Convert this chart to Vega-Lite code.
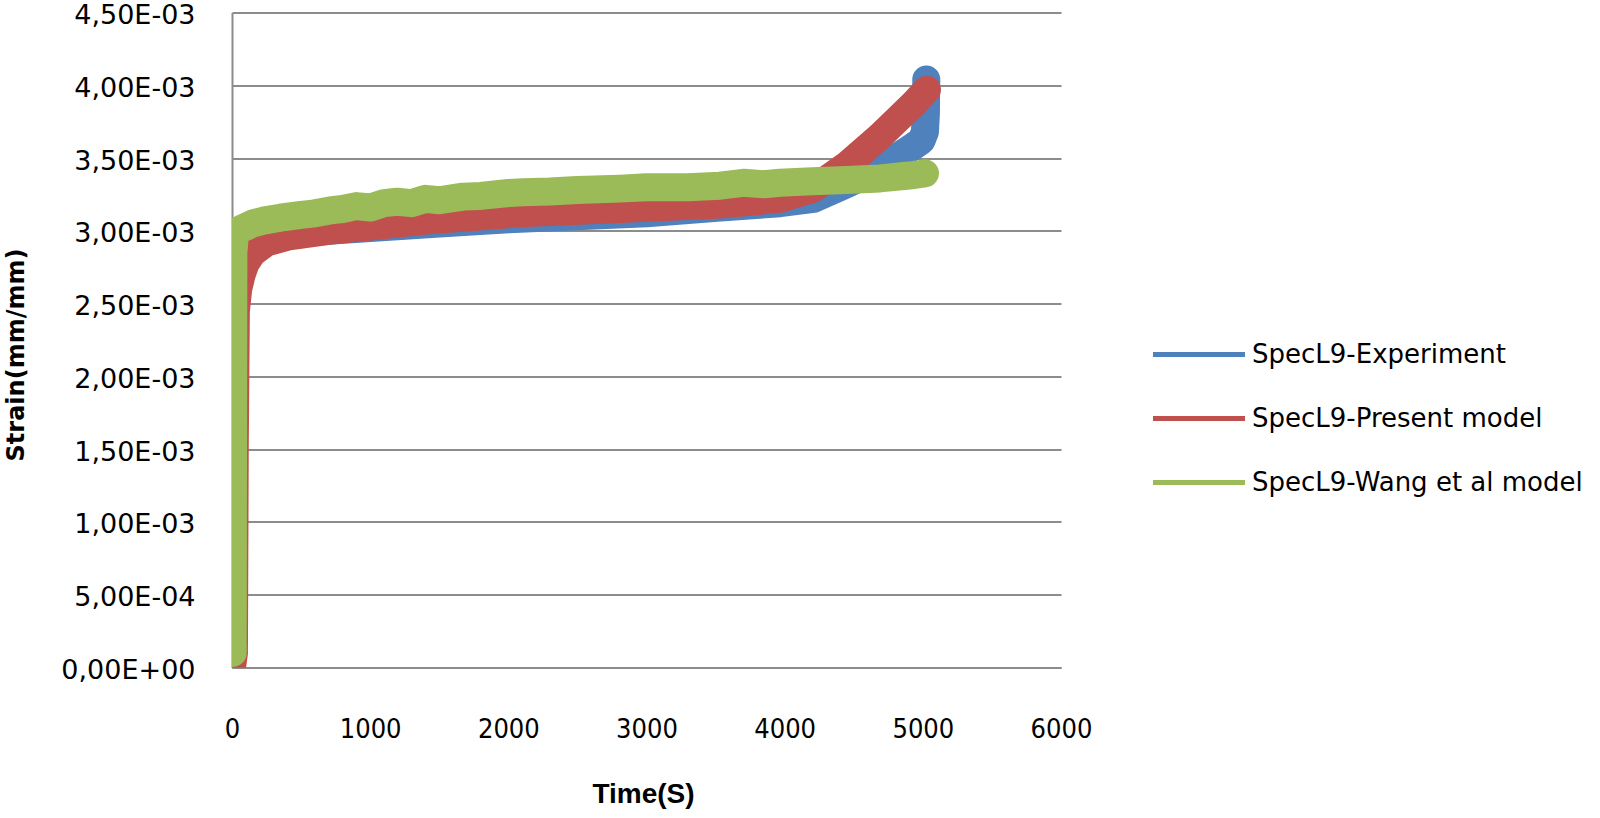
{
  "$schema": "https://vega.github.io/schema/vega-lite/v6.json",
  "autosize": {"type": "none"},
  "width": 829,
  "height": 655,
  "padding": {"left": 232, "top": 12.5, "right": 539, "bottom": 150.5},
  "background": "white",
  "config": {"view": {"stroke": null}},
  "data": {"values": [
    {"series": "SpecL9-Experiment", "t": 0, "strain": 0},
    {"series": "SpecL9-Experiment", "t": 10, "strain": 0.0012},
    {"series": "SpecL9-Experiment", "t": 22, "strain": 0.0025},
    {"series": "SpecL9-Experiment", "t": 45, "strain": 0.00278},
    {"series": "SpecL9-Experiment", "t": 70, "strain": 0.00287},
    {"series": "SpecL9-Experiment", "t": 100, "strain": 0.00291},
    {"series": "SpecL9-Experiment", "t": 200, "strain": 0.00295},
    {"series": "SpecL9-Experiment", "t": 400, "strain": 0.00298},
    {"series": "SpecL9-Experiment", "t": 700, "strain": 0.003},
    {"series": "SpecL9-Experiment", "t": 1000, "strain": 0.00302},
    {"series": "SpecL9-Experiment", "t": 1500, "strain": 0.00305},
    {"series": "SpecL9-Experiment", "t": 2000, "strain": 0.00308},
    {"series": "SpecL9-Experiment", "t": 2500, "strain": 0.0031},
    {"series": "SpecL9-Experiment", "t": 3000, "strain": 0.00312},
    {"series": "SpecL9-Experiment", "t": 3532, "strain": 0.00316},
    {"series": "SpecL9-Experiment", "t": 3966, "strain": 0.00319},
    {"series": "SpecL9-Experiment", "t": 4208, "strain": 0.00322},
    {"series": "SpecL9-Experiment", "t": 4449, "strain": 0.00332},
    {"series": "SpecL9-Experiment", "t": 4690, "strain": 0.00343},
    {"series": "SpecL9-Experiment", "t": 4931, "strain": 0.00358},
    {"series": "SpecL9-Experiment", "t": 4990, "strain": 0.00362},
    {"series": "SpecL9-Experiment", "t": 5015, "strain": 0.00368},
    {"series": "SpecL9-Experiment", "t": 5022, "strain": 0.0038},
    {"series": "SpecL9-Experiment", "t": 5025, "strain": 0.00404},
    {"series": "SpecL9-Present model", "t": 0, "strain": 0},
    {"series": "SpecL9-Present model", "t": 14, "strain": 0.0001},
    {"series": "SpecL9-Present model", "t": 20, "strain": 0.0015},
    {"series": "SpecL9-Present model", "t": 28, "strain": 0.00245},
    {"series": "SpecL9-Present model", "t": 45, "strain": 0.0026},
    {"series": "SpecL9-Present model", "t": 70, "strain": 0.0027},
    {"series": "SpecL9-Present model", "t": 100, "strain": 0.00278},
    {"series": "SpecL9-Present model", "t": 150, "strain": 0.00285},
    {"series": "SpecL9-Present model", "t": 250, "strain": 0.00292},
    {"series": "SpecL9-Present model", "t": 400, "strain": 0.00296},
    {"series": "SpecL9-Present model", "t": 700, "strain": 0.003},
    {"series": "SpecL9-Present model", "t": 1000, "strain": 0.00303},
    {"series": "SpecL9-Present model", "t": 1400, "strain": 0.00307},
    {"series": "SpecL9-Present model", "t": 2085, "strain": 0.00312},
    {"series": "SpecL9-Present model", "t": 2808, "strain": 0.00315},
    {"series": "SpecL9-Present model", "t": 3532, "strain": 0.00318},
    {"series": "SpecL9-Present model", "t": 3966, "strain": 0.00322},
    {"series": "SpecL9-Present model", "t": 4208, "strain": 0.00329},
    {"series": "SpecL9-Present model", "t": 4449, "strain": 0.00345},
    {"series": "SpecL9-Present model", "t": 4690, "strain": 0.00365},
    {"series": "SpecL9-Present model", "t": 4931, "strain": 0.00387},
    {"series": "SpecL9-Present model", "t": 5030, "strain": 0.00397},
    {"series": "SpecL9-Wang et al model", "t": 5, "strain": 0.0001},
    {"series": "SpecL9-Wang et al model", "t": 10, "strain": 0.00285},
    {"series": "SpecL9-Wang et al model", "t": 20, "strain": 0.00296},
    {"series": "SpecL9-Wang et al model", "t": 40, "strain": 0.003},
    {"series": "SpecL9-Wang et al model", "t": 80, "strain": 0.00302},
    {"series": "SpecL9-Wang et al model", "t": 150, "strain": 0.00305},
    {"series": "SpecL9-Wang et al model", "t": 226, "strain": 0.00307},
    {"series": "SpecL9-Wang et al model", "t": 350, "strain": 0.00309},
    {"series": "SpecL9-Wang et al model", "t": 500, "strain": 0.00311},
    {"series": "SpecL9-Wang et al model", "t": 600, "strain": 0.00312},
    {"series": "SpecL9-Wang et al model", "t": 709, "strain": 0.00314},
    {"series": "SpecL9-Wang et al model", "t": 800, "strain": 0.00315},
    {"series": "SpecL9-Wang et al model", "t": 900, "strain": 0.00317},
    {"series": "SpecL9-Wang et al model", "t": 1000, "strain": 0.00316},
    {"series": "SpecL9-Wang et al model", "t": 1100, "strain": 0.00319},
    {"series": "SpecL9-Wang et al model", "t": 1194, "strain": 0.0032},
    {"series": "SpecL9-Wang et al model", "t": 1300, "strain": 0.00319},
    {"series": "SpecL9-Wang et al model", "t": 1400, "strain": 0.00322},
    {"series": "SpecL9-Wang et al model", "t": 1500, "strain": 0.00321},
    {"series": "SpecL9-Wang et al model", "t": 1672, "strain": 0.003235},
    {"series": "SpecL9-Wang et al model", "t": 1800, "strain": 0.00324},
    {"series": "SpecL9-Wang et al model", "t": 2000, "strain": 0.00326},
    {"series": "SpecL9-Wang et al model", "t": 2106, "strain": 0.003265},
    {"series": "SpecL9-Wang et al model", "t": 2300, "strain": 0.00327},
    {"series": "SpecL9-Wang et al model", "t": 2500, "strain": 0.00328},
    {"series": "SpecL9-Wang et al model", "t": 2808, "strain": 0.00329},
    {"series": "SpecL9-Wang et al model", "t": 3000, "strain": 0.0033},
    {"series": "SpecL9-Wang et al model", "t": 3300, "strain": 0.0033},
    {"series": "SpecL9-Wang et al model", "t": 3532, "strain": 0.00331},
    {"series": "SpecL9-Wang et al model", "t": 3700, "strain": 0.00333},
    {"series": "SpecL9-Wang et al model", "t": 3850, "strain": 0.00332},
    {"series": "SpecL9-Wang et al model", "t": 3966, "strain": 0.00333},
    {"series": "SpecL9-Wang et al model", "t": 4200, "strain": 0.00334},
    {"series": "SpecL9-Wang et al model", "t": 4449, "strain": 0.00335},
    {"series": "SpecL9-Wang et al model", "t": 4690, "strain": 0.00336},
    {"series": "SpecL9-Wang et al model", "t": 4900, "strain": 0.00338},
    {"series": "SpecL9-Wang et al model", "t": 5016, "strain": 0.003395}
  ]},
  "mark": {"type": "line", "strokeWidth": 28, "strokeCap": "round", "strokeJoin": "round", "clip": true},
  "encoding": {
    "x": {
      "field": "t", "type": "quantitative",
      "scale": {"domain": [0, 6000], "nice": false, "zero": false},
      "axis": {
        "values": [0, 1000, 2000, 3000, 4000, 5000, 6000],
        "format": "d",
        "grid": false, "ticks": false,
        "domainColor": "#8c8c8c", "domainWidth": 2,
        "labelFont": "DejaVu Sans Condensed", "labelFontSize": 27, "labelColor": "#000000",
        "labelPadding": 49, "labelFlush": false,
        "title": "Time(S)", "titleFont": "Liberation Sans", "titleFontWeight": "bold",
        "titleFontSize": 28, "titleColor": "#000000",
        "titleX": 411, "titleY": 126.5, "titleBaseline": "middle", "titleAlign": "center"
      }
    },
    "y": {
      "field": "strain", "type": "quantitative",
      "scale": {"domain": [0, 0.0045], "nice": false},
      "axis": {
        "values": [0, 0.0005, 0.001, 0.0015, 0.002, 0.0025, 0.003, 0.0035, 0.004, 0.0045],
        "labelExpr": "replace(replace(replace(format(datum.value, '.2e'), '.', ','), 'e-', 'E-0'), 'e+', 'E+0')",
        "grid": true, "gridColor": "#8c8c8c", "gridWidth": 2,
        "ticks": false,
        "domainColor": "#8c8c8c", "domainWidth": 2,
        "labelFont": "DejaVu Sans", "labelFontSize": 27, "labelColor": "#000000",
        "labelPadding": 37, "labelFlush": false, "labelOffset": 3,
        "title": "Strain(mm/mm)", "titleFont": "DejaVu Sans", "titleFontWeight": "bold",
        "titleFontSize": 24, "titleColor": "#000000",
        "titleX": -216, "titleY": 342, "titleAngle": -90, "titleBaseline": "middle", "titleAlign": "center"
      }
    },
    "color": {
      "field": "series", "type": "nominal",
      "scale": {
        "domain": ["SpecL9-Experiment", "SpecL9-Present model", "SpecL9-Wang et al model"],
        "range": ["#4F81BD", "#C0504D", "#9BBB59"]
      },
      "legend": {
        "title": null,
        "orient": "none",
        "legendX": 935,
        "legendY": 310,
        "symbolType": "M-1.56,0L1.56,0",
        "symbolSize": 3481,
        "symbolStrokeWidth": 5,
        "labelFont": "DejaVu Sans",
        "labelFontSize": 26,
        "labelColor": "#000000",
        "labelOffset": 21,
        "labelLimit": 600,
        "rowPadding": 19
      }
    }
  }
}
